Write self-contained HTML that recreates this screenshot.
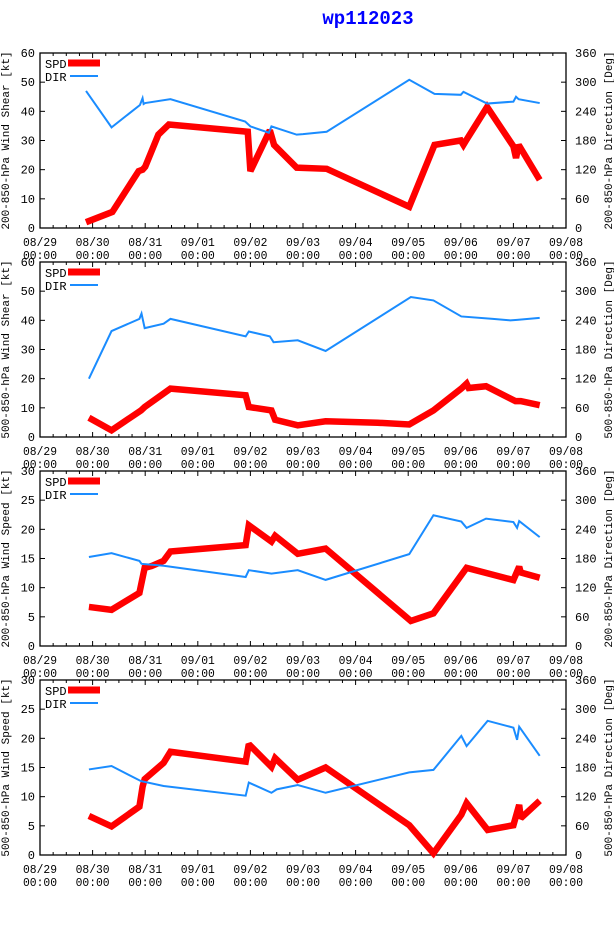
<!DOCTYPE html>
<html><head><meta charset="utf-8"><style>
body{margin:0;background:#fff;width:614px;height:936px;overflow:hidden}
svg{display:block;font-family:"Liberation Mono","DejaVu Sans Mono",monospace}
</style></head><body>
<svg id="c" width="614" height="936">
<text x="368" y="24" text-anchor="middle" font-size="19" font-weight="bold" fill="#0000ff">wp112023</text>
</svg>
<script>
const dayLabels = ["08/29","08/30","08/31","09/01","09/02","09/03","09/04","09/05","09/06","09/07","09/08"];
const leftTitles = ["200-850-hPa Wind Shear [kt]","500-850-hPa Wind Shear [kt]","200-850-hPa Wind Speed [kt]","500-850-hPa Wind Speed [kt]"];
const rightTitles = ["200-850-hPa Direction [Deg]","500-850-hPa Direction [Deg]","200-850-hPa Direction [Deg]","500-850-hPa Direction [Deg]"];
const spdMax = [60,60,30,30];
const dirMax = 360;
// panel 1
const spd1T = [0.875,1.375,1.875,1.95,2.0,2.25,2.45,3.95,4.0,4.37,4.45,4.88,5.45,7.02,7.5,8.0,8.05,8.1,8.5,9.0,9.05,9.1,9.5];
const spd1V = [2,5.5,19.5,20,21,32,35.5,33,19.5,33.5,28.5,20.7,20.3,7.3,28.5,30,28.5,30,41.5,28,24,28.5,16.5];
const dir1T = [0.875,1.36,1.9,1.95,1.97,2.0,2.48,3.9,4.0,4.35,4.4,4.88,5.0,5.45,7.02,7.5,8.0,8.05,8.5,9.0,9.05,9.1,9.5];
const dir1V = [282,207,253,267,255,257,265,219,209,196,209,192,193,198,305,276,274,280,256,260,270,265,257];
// panel 2
const spd2T = [0.93,1.36,1.92,1.99,2.48,3.91,3.97,4.40,4.47,4.90,5.43,6.42,7.02,7.48,8.01,8.11,8.15,8.48,9.04,9.14,9.5];
const spd2V = [6.6,2.3,9.1,10.3,16.6,14.3,10.3,9.1,5.9,4.0,5.4,4.9,4.3,9.1,16.6,18.3,16.8,17.4,12.3,12.3,10.9];
const dir2T = [0.93,1.36,1.89,1.93,1.99,2.35,2.48,3.91,3.97,4.37,4.44,4.90,5.43,7.05,7.48,8.01,8.61,8.94,9.07,9.5];
const dir2V = [120,218,243,254,224,233,243,207,217,207,195,199,177,288,281,248,243,240,241,245];
// panel 3
const spd3T = [0.93,1.36,1.89,1.99,2.12,2.35,2.48,3.91,3.97,4.40,4.47,4.90,5.43,7.05,7.48,8.11,9.0,9.11,9.14,9.5];
const spd3V = [6.7,6.2,9.1,13.4,13.7,14.6,16.2,17.3,20.7,17.9,18.9,15.8,16.7,4.3,5.6,13.4,11.3,13.6,12.6,11.7];
const dir3T = [0.93,1.36,1.89,1.93,2.35,3.91,3.97,4.40,4.90,5.43,7.02,7.48,8.01,8.11,8.48,9.0,9.07,9.11,9.5];
const dir3V = [183,191,175,169,165,142,156,149,156,136,189,269,256,243,262,255,243,257,224];
// panel 4
const spd4T = [0.93,1.36,1.89,1.95,1.99,2.35,2.48,3.91,3.97,4.40,4.47,4.90,5.43,7.02,7.48,8.01,8.11,8.51,9.0,9.11,9.14,9.5];
const spd4V = [6.7,4.9,8.3,11.7,13.0,15.8,17.7,16.0,19.0,15.1,16.6,12.9,15.0,5.1,0.3,6.9,8.9,4.3,5.1,8.6,6.3,9.3];
const dir4T = [0.93,1.36,1.92,2.35,3.91,3.97,4.40,4.50,4.90,5.43,7.02,7.48,8.01,8.11,8.51,9.0,9.07,9.11,9.5];
const dir4V = [176,183,152,142,122,149,128,135,144,128,170,175,245,224,276,262,237,264,204];

const spdT=[spd1T,spd2T,spd3T,spd4T], spdV=[spd1V,spd2V,spd3V,spd4V];
const dirT=[dir1T,dir2T,dir3T,dir4T], dirV=[dir1V,dir2V,dir3V,dir4V];

const NS="http://www.w3.org/2000/svg";
const svg=document.getElementById('c');
function mk(tag,attrs,parent){const e=document.createElementNS(NS,tag);for(const k in attrs)e.setAttribute(k,attrs[k]);(parent||svg).appendChild(e);return e;}
const L=40,R=566,H=175,W=R-L;
const tops=[53,262,471,680];
function xs(d){return L+d/10*W;}
for(let p=0;p<4;p++){
  const top=tops[p],bot=top+H;
  const g=mk('g',{});
  
  
  const ysL=v=>bot-v/spdMax[p]*H, ysR=v=>bot-v/dirMax*H;
  const fr=mk('rect',{x:L,y:top,width:W,height:H,fill:'none',stroke:'#000','stroke-width':1.3},g);
  
  
  for(let i=0;i<=40;i++){
    const x=xs(i/4), len=i%4==0?5:3;
    mk('line',{x1:x,y1:bot,x2:x,y2:bot-len,stroke:'#000'},g);
    mk('line',{x1:x,y1:top,x2:x,y2:top+len,stroke:'#000'},g);
  }
  for(let i=0;i<dayLabels.length;i++){
    const t=mk('text',{x:xs(i),y:bot+18,'text-anchor':'middle','font-size':12,textLength:34,lengthAdjust:'spacingAndGlyphs'},g);
    t.textContent=dayLabels[i];
    
    
    const t2=mk('text',{x:xs(i),y:bot+31,'text-anchor':'middle','font-size':12,textLength:34,lengthAdjust:'spacingAndGlyphs'},g);
    t2.textContent='00:00';
    
    
  }
  for(let i=0;i<=6;i++){
    const vl=spdMax[p]/6*i, y=ysL(vl);
    mk('line',{x1:L,y1:y,x2:L+5,y2:y,stroke:'#000'},g);
    mk('line',{x1:R,y1:y,x2:R-5,y2:y,stroke:'#000'},g);
    const t=mk('text',{x:35,y:y+4,'text-anchor':'end','font-size':12},g);
    t.textContent=vl;
    
    
    const t2=mk('text',{x:575,y:y+4,'font-size':12},g);
    t2.textContent=dirMax/6*i;
    
    
  }
  const cy=top+H/2;
  const yl=mk('text',{x:0,y:0,'text-anchor':'middle','font-size':11,transform:`translate(9,${cy}) rotate(-90)`},g);
  yl.textContent=leftTitles[p];
  
  
  const yr=mk('text',{x:0,y:0,'text-anchor':'middle','font-size':11,transform:`translate(612,${cy}) rotate(-90)`},g);
  yr.textContent=rightTitles[p];
  
  
  const sp=spdT[p].map((t,i)=>xs(t)+','+ysL(spdV[p][i])).join(' ');
  const s=mk('polyline',{points:sp,fill:'none',stroke:'#ff0000','stroke-width':6.5,'stroke-linejoin':'miter','stroke-miterlimit':2},g);
  
  
  const dp=dirT[p].map((t,i)=>xs(t)+','+ysR(dirV[p][i])).join(' ');
  const d=mk('polyline',{points:dp,fill:'none',stroke:'#1a8cff','stroke-width':2},g);
  
  
  const lg=mk('g',{},g);
  
  
  const a=mk('text',{x:45,y:top+15,'font-size':12},lg);a.textContent='SPD';
  
  
  mk('line',{x1:68,y1:top+10,x2:100,y2:top+10,stroke:'#ff0000','stroke-width':7},lg);
  const b=mk('text',{x:45,y:top+28,'font-size':12},lg);b.textContent='DIR';
  
  
  mk('line',{x1:70,y1:top+23,x2:98,y2:top+23,stroke:'#1a8cff','stroke-width':2},lg);
}
</script>
</body></html>
